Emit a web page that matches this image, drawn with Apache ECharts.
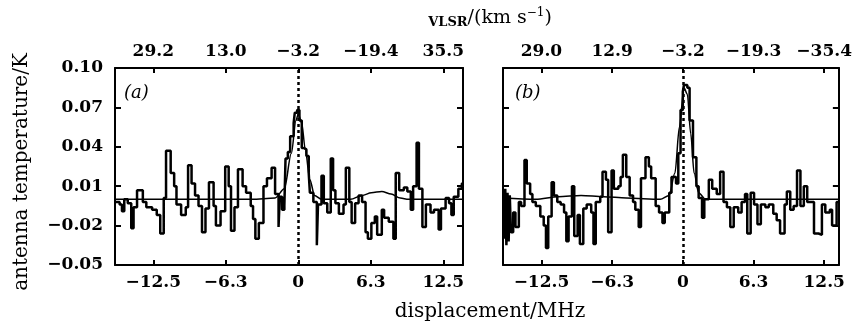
<!DOCTYPE html>
<html><head><meta charset="utf-8">
<script src="https://cdn.jsdelivr.net/npm/echarts@6/dist/echarts.min.js"></script>
<style>html,body{margin:0;padding:0;background:#fff}#c{width:855px;height:327px}</style>
</head><body><div id="c"></div>
<script>
// ---- data ----
const tickValues = [-12.5, -6.25, 0, 6.25, 12.5];
const bottomLabels = ['\u221212.5', '\u22126.3', '0', '6.3', '12.5'];
const topLabelsA = ['29.2', '13.0', '\u22123.2', '\u221219.4', '35.5'];
const topLabelsB = ['29.0', '12.9', '\u22123.2', '\u221219.3', '\u221235.4'];
const yTicks = [-0.05, -0.02, 0.01, 0.04, 0.07, 0.10];

// panel (a) spectrum: [displacement MHz, antenna temperature K]
const spectrumA = [
[-15.8,-0.002],[-15.4,-0.004],[-15.2,-0.009],[-15.0,0.0],[-14.7,-0.003],[-14.4,-0.022],[-14.2,-0.006],
[-13.9,0.007],[-13.4,-0.002],[-13.1,-0.006],[-12.6,-0.008],[-12.2,-0.012],[-11.9,-0.026],[-11.6,0.001],
[-11.4,0.037],[-11.0,0.020],[-10.7,0.010],[-10.5,-0.004],[-10.1,-0.012],[-9.7,-0.006],[-9.5,0.026],
[-9.2,0.012],[-8.9,0.003],[-8.6,-0.005],[-8.3,-0.025],[-8.0,-0.007],[-7.7,0.013],[-7.3,-0.005],
[-7.1,-0.020],[-6.7,-0.009],[-6.3,0.025],[-6.0,0.010],[-5.8,-0.024],[-5.5,-0.006],[-5.2,0.023],
[-4.8,0.010],[-4.5,0.005],[-4.1,-0.005],[-3.9,-0.015],[-3.7,-0.030],[-3.4,-0.018],[-3.0,0.010],
[-2.7,0.016],[-2.3,0.024],[-2.0,0.004],[-1.7,-0.021],[-1.6,0.002],[-1.4,-0.008],[-1.2,-0.005],
[-1.1,0.031],[-0.9,0.036],[-0.7,0.048],[-0.4,0.058],[-0.3,0.066],[-0.1,0.068],[0.1,0.060],
[0.3,0.039],[0.5,0.038],[0.7,0.033],[0.9,0.020],[1.0,0.005],[1.3,-0.002],[1.6,-0.035],[1.7,-0.004],
[2.0,0.018],[2.2,-0.003],[2.5,-0.010],[2.8,0.031],[3.0,0.007],[3.2,-0.003],[3.5,-0.011],[3.9,-0.004],
[4.1,0.024],[4.4,-0.002],[4.6,-0.018],[4.9,-0.003],[5.2,0.003],[5.5,-0.002],[5.8,-0.025],[6.0,-0.030],
[6.3,-0.018],[6.6,-0.013],[6.8,-0.027],[7.2,-0.008],[7.4,-0.014],[7.8,-0.017],[8.2,-0.030],[8.4,0.020],
[8.7,0.007],[9.1,0.009],[9.4,0.006],[9.7,-0.008],[9.9,0.010],[10.2,0.043],[10.4,0.008],[10.7,-0.021],
[11.0,-0.004],[11.4,-0.010],[11.7,-0.008],[12.1,-0.023],[12.3,-0.007],[12.7,0.001],[13.0,-0.003],
[13.2,-0.012],[13.4,0.002],[13.8,0.008],[14.1,0.012],[14.2,0.012]
];
const fitA = [
[-15.8,0.0],[-14,0.0],[-12,0.0],[-10,0.0],[-8,0.0],[-6,0.0],[-4,0.0],[-2,0.001],[-1.2,0.008],
[-0.6,0.035],[-0.2,0.060],[0.0,0.065],[0.3,0.058],[0.6,0.038],[1.0,0.015],[1.4,0.003],[2.0,0.0],
[3.5,0.0],[4.5,0.0],[5.5,0.003],[6.3,0.005],[7.2,0.006],[8.0,0.004],[8.8,0.001],[9.5,0.0],[11,0.0],[14.2,0.0]
];

// panel (b) spectrum
const spectrumB = [
[-15.8,-0.030],[-15.7,0.008],[-15.6,-0.035],[-15.5,0.005],[-15.4,-0.032],[-15.3,0.003],[-15.2,-0.025],
[-15.0,-0.010],[-14.8,-0.021],[-14.5,-0.002],[-14.3,-0.005],[-14.0,0.030],[-13.8,0.012],[-13.5,0.004],
[-13.3,-0.002],[-13.0,-0.005],[-12.6,-0.013],[-12.3,-0.020],[-12.1,-0.037],[-11.9,-0.013],[-11.6,0.013],
[-11.4,0.003],[-11.1,-0.002],[-10.8,-0.004],[-10.5,-0.010],[-10.3,-0.032],[-10.1,-0.013],[-9.8,0.010],
[-9.6,-0.028],[-9.3,-0.012],[-9.1,-0.034],[-8.8,-0.007],[-8.5,-0.004],[-8.1,-0.010],[-7.9,-0.034],
[-7.7,-0.002],[-7.3,0.002],[-7.1,0.021],[-6.8,0.015],[-6.6,-0.025],[-6.3,0.022],[-6.1,0.008],
[-5.7,0.010],[-5.5,0.017],[-5.3,0.034],[-5.0,0.017],[-4.7,0.003],[-4.4,-0.002],[-4.2,-0.008],
[-3.9,-0.021],[-3.7,0.016],[-3.3,0.032],[-3.0,0.025],[-2.8,0.016],[-2.4,-0.005],[-2.1,-0.010],
[-1.8,-0.018],[-1.6,-0.010],[-1.2,0.005],[-1.0,0.017],[-0.6,0.012],[-0.4,0.035],[-0.2,0.068],
[0.0,0.082],[0.1,0.087],[0.4,0.085],[0.6,0.060],[0.9,0.032],[1.2,0.010],[1.4,0.001],[1.7,-0.014],
[1.9,0.000],[2.3,0.015],[2.6,0.008],[3.0,0.004],[3.3,0.021],[3.6,-0.002],[3.9,-0.006],[4.2,-0.021],
[4.5,-0.006],[4.9,-0.010],[5.2,-0.002],[5.5,0.004],[5.7,-0.026],[6.0,0.005],[6.3,-0.004],[6.6,-0.019],
[6.9,-0.004],[7.3,-0.006],[7.6,-0.004],[8.0,-0.011],[8.3,-0.016],[8.6,-0.026],[9.0,-0.004],[9.2,0.006],
[9.5,-0.008],[9.8,-0.005],[10.1,0.022],[10.4,-0.005],[10.7,0.010],[11.0,-0.002],[11.4,-0.002],
[11.6,-0.026],[12.0,-0.027],[12.3,-0.004],[12.6,-0.010],[13.0,-0.008],[13.2,-0.020],[13.6,-0.002],[13.8,-0.002]
];
const fitB = [
[-15.9,0.001],[-13,0.0],[-11,0.002],[-9,0.003],[-7,0.002],[-5,0.001],[-2,0.0],[-1.2,0.003],
[-0.7,0.020],[-0.3,0.055],[0.1,0.085],[0.4,0.080],[0.7,0.050],[1.0,0.020],[1.4,0.005],[2.0,0.0],
[5,0.0],[9,0.0],[13.8,0.0]
];

// ---- chart ----
const FONT = 'DejaVu Serif';
const chart = echarts.init(document.getElementById('c'), null, {renderer: 'canvas'});
function lab(arr) { return function (v) { for (let i = 0; i < tickValues.length; i++) { if (Math.abs(tickValues[i] - v) < 1e-6) return arr[i]; } return ''; }; }
const axisLine = {show: true, onZero: false, lineStyle: {color: '#000', width: 2}};
function xAx(grid, pos, min, max, labels) {
  return {type: 'value', gridIndex: grid, position: pos, min: min, max: max,
    axisLine: axisLine, splitLine: {show: false},
    axisTick: {show: true, inside: true, length: 5, customValues: tickValues, lineStyle: {color: '#000', width: 2}},
    axisLabel: {show: true, customValues: tickValues, formatter: lab(labels), color: '#000', fontFamily: FONT, fontWeight: 'bold', fontSize: 17, margin: pos === 'top' ? 8 : 9}};
}
function yAx(grid, pos, showLabel) {
  return {type: 'value', gridIndex: grid, position: pos, min: -0.05, max: 0.10, interval: 0.03,
    axisLine: axisLine, splitLine: {show: false},
    axisTick: {show: true, inside: true, length: 6, lineStyle: {color: '#000', width: 2}},
    axisLabel: {show: showLabel, color: '#000', fontFamily: FONT, fontWeight: 'bold', fontSize: 17, margin: 12,
      formatter: function (v) { return v.toFixed(2).replace('-', '\u2212'); }}};
}
const zeroLine = {silent: true, symbol: 'none', label: {show: false},
  lineStyle: {color: '#000', width: 2.5, type: [3, 3]}, data: [{xAxis: 0}]};
chart.setOption({
  animation: false,
  backgroundColor: '#fff',
  grid: [
    {left: 115, top: 68, width: 348, height: 197},
    {left: 503, top: 68, width: 346, height: 197}
  ],
  xAxis: [
    xAx(0, 'bottom', -15.8, 14.2, bottomLabels),
    xAx(0, 'top', -15.8, 14.2, topLabelsA),
    xAx(1, 'bottom', -15.9, 13.8, bottomLabels),
    xAx(1, 'top', -15.9, 13.8, topLabelsB)
  ],
  yAxis: [yAx(0, 'left', true), yAx(0, 'right', false), yAx(1, 'left', false), yAx(1, 'right', false)],
  series: [
    {type: 'line', xAxisIndex: 0, yAxisIndex: 0, data: spectrumA, step: 'end', showSymbol: false,
      lineStyle: {color: '#000', width: 2.5}, markLine: zeroLine, z: 3},
    {type: 'line', xAxisIndex: 0, yAxisIndex: 0, data: fitA, smooth: 0.3, smoothMonotone: 'x', showSymbol: false,
      lineStyle: {color: '#000', width: 1.5}, z: 4},
    {type: 'line', xAxisIndex: 2, yAxisIndex: 2, data: spectrumB, step: 'end', showSymbol: false,
      lineStyle: {color: '#000', width: 2.5}, markLine: zeroLine, z: 3},
    {type: 'line', xAxisIndex: 2, yAxisIndex: 2, data: fitB, smooth: 0.3, smoothMonotone: 'x', showSymbol: false,
      lineStyle: {color: '#000', width: 1.5}, z: 4}
  ],
  graphic: [
    {type: 'text', left: 124, top: 84, style: {text: '(a)', font: 'italic 18px "DejaVu Serif"', fill: '#000'}},
    {type: 'text', left: 515, top: 84, style: {text: '(b)', font: 'italic 18px "DejaVu Serif"', fill: '#000'}},
    {type: 'text', x: 22, y: 172, rotation: Math.PI / 2,
      style: {text: 'antenna temperature/K', font: '20px "DejaVu Serif"', fill: '#000', align: 'center', verticalAlign: 'middle'}},
    {type: 'text', x: 490, y: 312,
      style: {text: 'displacement/MHz', font: '20px "DejaVu Serif"', fill: '#000', align: 'center', verticalAlign: 'middle'}},
    {type: 'text', x: 490, y: 18,
      style: {text: '{sc|VLSR}{n|/(km s}{sup|\u22121}{n|)}', align: 'center', verticalAlign: 'middle',
        rich: {sc: {fontFamily: FONT, fontSize: 13, fontWeight: 'bold', color: '#000', verticalAlign: 'bottom'},
               n: {fontFamily: FONT, fontSize: 19, color: '#000'},
               sup: {fontFamily: FONT, fontSize: 12, color: '#000', padding: [0, 0, 10, 0]}}}}
  ]
});
</script>
</body></html>
